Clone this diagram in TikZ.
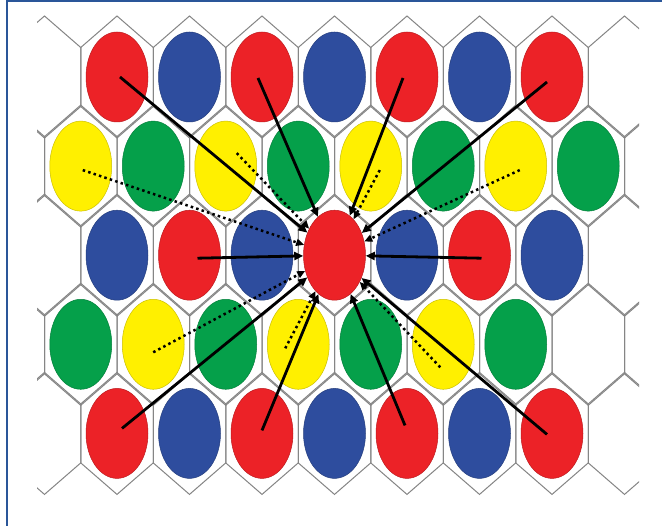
\documentclass[tikz,border=0pt]{standalone}
\usetikzlibrary{shapes.geometric,arrows.meta}
\definecolor{cred}{HTML}{EC2227}
\definecolor{cblue}{HTML}{2E4D9E}
\definecolor{cgreen}{HTML}{05A04A}
\definecolor{cyellow}{HTML}{FFF000}
\definecolor{frameblue}{HTML}{2A5699}
\definecolor{hexgray}{HTML}{858585}
\begin{document}
\begin{tikzpicture}[x=1pt,y=-1pt,
  cell/.style={ellipse, minimum width=62pt, minimum height=90pt, inner sep=0pt, fill=#1, draw=#1!80!black, line width=0.5pt},
  hexline/.style={draw=hexgray, line width=1pt},
  solidarrow/.style={line width=2.8pt, -{Triangle[length=9pt,width=8pt]}},
  dotarrow/.style={line width=2.5pt, dash pattern=on 2.5pt off 3.2pt, -{Triangle[length=8pt,width=7pt]}},
  frameline/.style={draw=frameblue, line width=2.4pt}]
\fill[white] (0,0) rectangle (662,526);
\useasboundingbox (0,0) rectangle (662,526);
% hexagonal grid
\begin{scope}
\clip (37,0) rectangle (639,526);
\foreach \r in {0,2,4} {
  \foreach \k in {0,...,8} {
    \pgfmathsetmacro\cx{44.5+72.5*\k}
    \pgfmathsetmacro\cy{77+89.1*\r}
    \draw[hexline] (\cx,\cy) +(0,-61) -- +(36.25,-29.5) -- +(36.25,29.5) -- +(0,61) -- +(-36.25,29.5) -- +(-36.25,-29.5) -- cycle;
  }
}
\foreach \r in {1,3} {
  \foreach \k in {0,...,9} {
    \pgfmathsetmacro\cx{8.25+72.5*\k}
    \pgfmathsetmacro\cy{77+89.1*\r}
    \draw[hexline] (\cx,\cy) +(0,-61) -- +(36.25,-29.5) -- +(36.25,29.5) -- +(0,61) -- +(-36.25,29.5) -- +(-36.25,-29.5) -- cycle;
  }
}
\end{scope}
% row 1
\node[cell=cred]  (a1) at (117,77) {};
\node[cell=cblue] (a2) at (189.5,77) {};
\node[cell=cred]  (a3) at (262,77) {};
\node[cell=cblue] (a4) at (334.5,77) {};
\node[cell=cred]  (a5) at (407,77) {};
\node[cell=cblue] (a6) at (479.5,77) {};
\node[cell=cred]  (a7) at (552,77) {};
% row 2
\node[cell=cyellow] (b1) at (80.75,166.1) {};
\node[cell=cgreen]  (b2) at (153.25,166.1) {};
\node[cell=cyellow] (b3) at (225.75,166.1) {};
\node[cell=cgreen]  (b4) at (298.25,166.1) {};
\node[cell=cyellow] (b5) at (370.75,166.1) {};
\node[cell=cgreen]  (b6) at (443.25,166.1) {};
\node[cell=cyellow] (b7) at (515.75,166.1) {};
\node[cell=cgreen]  (b8) at (588.25,166.1) {};
% row 3
\node[cell=cblue] (c1) at (117,255.2) {};
\node[cell=cred]  (c2) at (189.5,255.2) {};
\node[cell=cblue] (c3) at (262,255.2) {};
\node[cell=cred]  (C)  at (334.5,255.2) {};
\node[cell=cblue] (c5) at (407,255.2) {};
\node[cell=cred]  (c6) at (479.5,255.2) {};
\node[cell=cblue] (c7) at (552,255.2) {};
% row 4
\node[cell=cgreen]  (d1) at (80.75,344.3) {};
\node[cell=cyellow] (d2) at (153.25,344.3) {};
\node[cell=cgreen]  (d3) at (225.75,344.3) {};
\node[cell=cyellow] (d4) at (298.25,344.3) {};
\node[cell=cgreen]  (d5) at (370.75,344.3) {};
\node[cell=cyellow] (d6) at (443.25,344.3) {};
\node[cell=cgreen]  (d7) at (515.75,344.3) {};
% row 5
\node[cell=cred]  (e1) at (117,433.4) {};
\node[cell=cblue] (e2) at (189.5,433.4) {};
\node[cell=cred]  (e3) at (262,433.4) {};
\node[cell=cblue] (e4) at (334.5,433.4) {};
\node[cell=cred]  (e5) at (407,433.4) {};
\node[cell=cblue] (e6) at (479.5,433.4) {};
\node[cell=cred]  (e7) at (552,433.4) {};
% dotted arrows
\draw[dotarrow] ([shift={(2,4)}]b1.center) -- (C);
\draw[dotarrow] ([shift={(11,-13)}]b3.center) -- (C);
\draw[dotarrow] ([shift={(9,4)}]b5.center) -- (C);
\draw[dotarrow] ([shift={(4,4)}]b7.center) -- (C);
\draw[dotarrow] ([shift={(0,8)}]d2.center) -- (C);
\draw[dotarrow] ([shift={(-13,4)}]d4.center) -- (C);
\draw[dotarrow] ([shift={(-3,23)}]d6.center) -- (C);
% solid arrows
\draw[solidarrow] ([shift={(3,0)}]a1.center) -- (C);
\draw[solidarrow] ([shift={(-4,1)}]a3.center) -- (C);
\draw[solidarrow] ([shift={(-4,1)}]a5.center) -- (C);
\draw[solidarrow] ([shift={(-5,5)}]a7.center) -- (C);
\draw[solidarrow] ([shift={(8,3)}]c2.center) -- (C);
\draw[solidarrow] ([shift={(2,3)}]c6.center) -- (C);
\draw[solidarrow] ([shift={(5,-5)}]e1.center) -- (C);
\draw[solidarrow] ([shift={(0,-3)}]e3.center) -- (C);
\draw[solidarrow] ([shift={(-2,-8)}]e5.center) -- (C);
\draw[solidarrow] ([shift={(-5,1)}]e7.center) -- (C);
% frame
\draw[frameline] (7.2,526) -- (7.2,1.2) -- (662,1.2);
\end{tikzpicture}
\end{document}
